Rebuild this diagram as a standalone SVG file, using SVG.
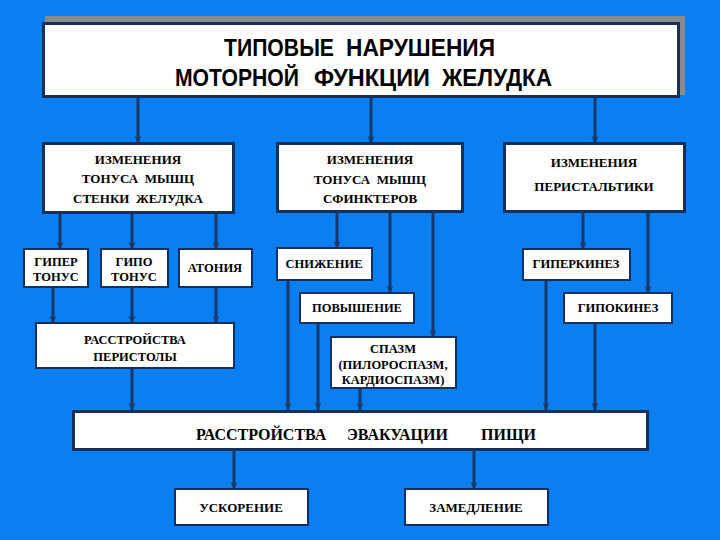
<svg xmlns="http://www.w3.org/2000/svg" width="720" height="540" viewBox="0 0 720 540">
<defs>
<marker id="ah" markerUnits="userSpaceOnUse" markerWidth="8" markerHeight="8" viewBox="0 0 8 8" refX="7.5" refY="4" orient="auto">
<path d="M0.5,0.5 L7.5,4 L0.5,7.5 L2.5,4 Z" fill="#17386a"/>
</marker>
<style>
text{white-space:pre}
.bx{fill:#fff;stroke:#12305a;stroke-width:3}
.sb{fill:#fff;stroke:#12305a;stroke-width:2}
.t{font-family:"Liberation Serif","Times New Roman",serif;font-weight:bold;font-size:13px;fill:#000;text-anchor:middle}
.s{font-size:12.5px}
.ttl{font-family:"Liberation Sans",Arial,sans-serif;font-weight:bold;font-size:24px;fill:#000;text-anchor:start}
.c line{stroke:#17386a;stroke-width:3;marker-end:url(#ah)}
</style>
</defs>
<rect width="720" height="540" fill="#0b7ef0"/>

<g id="title">
<rect x="45" y="16" width="640" height="79" fill="#8a8a8a"/>
<rect class="bx" x="43.5" y="23.5" width="635" height="73"/>
<text class="ttl" x="224" y="56" textLength="110" lengthAdjust="spacingAndGlyphs">ТИПОВЫЕ</text>
<text class="ttl" x="346" y="56" textLength="149" lengthAdjust="spacingAndGlyphs">НАРУШЕНИЯ</text>
<text class="ttl" x="175" y="86" textLength="124" lengthAdjust="spacingAndGlyphs">МОТОРНОЙ</text>
<text class="ttl" x="314" y="86" textLength="116" lengthAdjust="spacingAndGlyphs">ФУНКЦИИ</text>
<text class="ttl" x="442" y="86" textLength="110" lengthAdjust="spacingAndGlyphs">ЖЕЛУДКА</text>
</g>

<g class="c" id="connectors">
<line x1="138" y1="98" x2="138" y2="143"/>
<line x1="371" y1="98" x2="371" y2="143"/>
<line x1="595" y1="98" x2="595" y2="143"/>
<line x1="60" y1="213" x2="60" y2="249"/>
<line x1="132" y1="213" x2="132" y2="249"/>
<line x1="216" y1="213" x2="216" y2="249"/>
<line x1="53" y1="287" x2="53" y2="323"/>
<line x1="132" y1="287" x2="132" y2="323"/>
<line x1="216" y1="287" x2="216" y2="323"/>
<line x1="132" y1="368" x2="132" y2="410"/>
<line x1="337" y1="212" x2="337" y2="248"/>
<line x1="390" y1="212" x2="390" y2="293"/>
<line x1="433" y1="212" x2="433" y2="337"/>
<line x1="288" y1="280" x2="288" y2="410"/>
<line x1="318" y1="323" x2="318" y2="410"/>
<line x1="360" y1="388" x2="360" y2="410"/>
<line x1="583" y1="212" x2="583" y2="249"/>
<line x1="648" y1="212" x2="648" y2="293"/>
<line x1="546" y1="280" x2="546" y2="410"/>
<line x1="595" y1="323" x2="595" y2="410"/>
<line x1="234" y1="450" x2="234" y2="489"/>
<line x1="474" y1="450" x2="474" y2="489"/>
</g>

<g id="wall">
<rect class="bx" x="43.5" y="143.5" width="190" height="69"/>
<text class="t" x="138" y="164">ИЗМЕНЕНИЯ</text>
<text class="t" x="138" y="183">ТОНУСА  МЫШЦ</text>
<text class="t" x="138" y="203">СТЕНКИ  ЖЕЛУДКА</text>
</g>
<g id="sphincter">
<rect class="bx" x="277.5" y="143.5" width="185" height="68"/>
<text class="t" x="370" y="164">ИЗМЕНЕНИЯ</text>
<text class="t" x="370" y="184">ТОНУСА  МЫШЦ</text>
<text class="t" x="370" y="203">СФИНКТЕРОВ</text>
</g>
<g id="peristalsis">
<rect class="bx" x="504.5" y="143.5" width="180" height="68"/>
<text class="t" x="594" y="167">ИЗМЕНЕНИЯ</text>
<text class="t" x="594" y="191">ПЕРИСТАЛЬТИКИ</text>
</g>

<g id="hyper"><rect class="sb" x="24" y="249" width="64" height="38"/>
<text class="t s" x="56" y="266">ГИПЕР</text><text class="t s" x="56" y="281">ТОНУС</text></g>
<g id="hypo"><rect class="sb" x="101" y="249" width="67" height="38"/>
<text class="t s" x="134" y="266">ГИПО</text><text class="t s" x="134" y="281">ТОНУС</text></g>
<g id="atonia"><rect class="sb" x="179" y="249" width="73" height="38"/>
<text class="t s" x="215" y="272">АТОНИЯ</text></g>
<g id="peristola"><rect class="sb" x="36" y="323" width="198" height="45"/>
<text class="t s" x="135" y="344">РАССТРОЙСТВА</text><text class="t s" x="135" y="361">ПЕРИСТОЛЫ</text></g>

<g id="decrease"><rect class="sb" x="277" y="248" width="95" height="32"/>
<text class="t s" x="324" y="268">СНИЖЕНИЕ</text></g>
<g id="increase"><rect class="sb" x="300" y="293" width="114" height="30"/>
<text class="t s" x="357" y="312">ПОВЫШЕНИЕ</text></g>
<g id="spasm"><rect class="sb" x="331" y="337" width="125" height="51"/>
<text class="t s" x="393" y="353">СПАЗМ</text><text class="t s" x="393" y="369">(ПИЛОРОСПАЗМ,</text><text class="t s" x="393" y="384">КАРДИОСПАЗМ)</text></g>

<g id="hyperkinez"><rect class="sb" x="523" y="249" width="107" height="31"/>
<text class="t s" x="576" y="268">ГИПЕРКИНЕЗ</text></g>
<g id="hypokinez"><rect class="sb" x="564" y="293" width="108" height="30"/>
<text class="t s" x="618" y="312">ГИПОКИНЕЗ</text></g>

<g id="evacuation"><rect class="bx" x="73.5" y="411.5" width="574" height="38"/>
<text class="t" style="font-size:16px;text-anchor:start" x="196" y="440">РАССТРОЙСТВА</text>
<text class="t" style="font-size:16px;text-anchor:start" x="347" y="440">ЭВАКУАЦИИ</text>
<text class="t" style="font-size:16px;text-anchor:start" x="481" y="440">ПИЩИ</text></g>

<g id="accel"><rect class="sb" x="175" y="489" width="133" height="36"/>
<text class="t" x="241" y="512">УСКОРЕНИЕ</text></g>
<g id="slow"><rect class="sb" x="405" y="489" width="143" height="36"/>
<text class="t" x="476" y="512">ЗАМЕДЛЕНИЕ</text></g>
</svg>
